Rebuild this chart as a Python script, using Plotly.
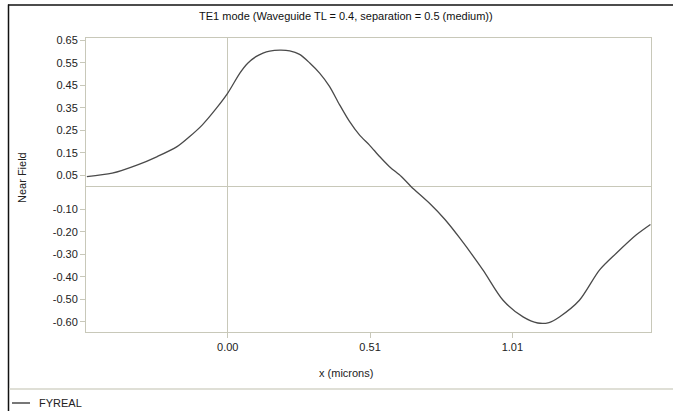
import plotly.graph_objects as go

# ---- data ----
x_microns = [-0.50, -0.41, -0.32, -0.25, -0.18, -0.135, -0.09, -0.04, 0.00, 0.043,
             0.07, 0.10, 0.125, 0.149, 0.185, 0.220, 0.255, 0.291, 0.326, 0.361,
             0.397, 0.432, 0.468, 0.503, 0.539, 0.574, 0.616, 0.651, 0.716, 0.77,
             0.823, 0.906, 0.977, 1.048, 1.10, 1.14, 1.177, 1.248, 1.319, 1.378,
             1.449, 1.50]
fyreal = [0.045, 0.060, 0.097, 0.134, 0.178, 0.223, 0.275, 0.349, 0.416, 0.505,
          0.548, 0.578, 0.594, 0.603, 0.607, 0.604, 0.588, 0.550, 0.505, 0.446,
          0.364, 0.290, 0.229, 0.185, 0.134, 0.089, 0.045, 0.000, -0.074, -0.145,
          -0.228, -0.371, -0.505, -0.579, -0.606, -0.604, -0.579, -0.505, -0.371, -0.297,
          -0.215, -0.168]

y_tickvals = [0.65, 0.55, 0.45, 0.35, 0.25, 0.15, 0.05, -0.10, -0.20, -0.30, -0.40, -0.50, -0.60]
y_ticktext = ["0.65", "0.55", "0.45", "0.35", "0.25", "0.15", "0.05",
              "-0.10", "-0.20", "-0.30", "-0.40", "-0.50", "-0.60"]
x_tickvals = [0.0, 0.505, 1.01]
x_ticktext = ["0.00", "0.51", "1.01"]

title_text = "TE1 mode (Waveguide TL = 0.4, separation = 0.5 (medium))"
x_title = "x (microns)"
y_title = "Near Field"
series_name = "FYREAL"

# ---- layout geometry (pixels) ----
W, H = 673, 411
L, R, T, B = 86, 22, 38, 79
PW, PH = W - L - R, H - T - B


def px(xp):
    return (xp - L) / PW


def py(yp):
    return (H - B - yp) / PH


FONT = "Liberation Sans, Arial, sans-serif"
AXC = "#c8c8b9"
LINEC = "#4a4a4a"

fig = go.Figure()
fig.add_trace(go.Scatter(
    x=x_microns, y=fyreal, mode="lines", name=series_name,
    line=dict(color=LINEC, width=1.3, shape="spline", smoothing=0.8),
    showlegend=False,
))

fig.update_layout(
    width=W, height=H,
    margin=dict(l=L, r=R, t=T, b=B, pad=0, autoexpand=False),
    paper_bgcolor="white", plot_bgcolor="white",
    font=dict(family=FONT, size=11, color="#222222"),
    showlegend=False,
    xaxis=dict(range=[-0.503, 1.502], tickvals=x_tickvals, ticktext=x_ticktext,
               showgrid=False, zeroline=True, zerolinecolor=AXC, zerolinewidth=1,
               showline=True, linecolor=AXC, linewidth=1, mirror=True,
               ticks="outside", ticklen=5, tickcolor=AXC, tickwidth=1,
               tickfont=dict(size=11, color="#222222")),
    yaxis=dict(range=[-0.646, 0.661], tickvals=y_tickvals, ticktext=y_ticktext,
               showgrid=False, zeroline=True, zerolinecolor=AXC, zerolinewidth=1,
               showline=True, linecolor=AXC, linewidth=1, mirror=True,
               ticks="outside", ticklen=5, tickcolor=AXC, tickwidth=1,
               tickfont=dict(size=11, color="#222222")),
    annotations=[
        dict(text=title_text, x=px(346), y=py(16), xref="paper", yref="paper",
             showarrow=False, xanchor="center", yanchor="middle",
             font=dict(family=FONT, size=11, color="#111111")),
        dict(text=x_title, x=px(346), y=py(373), xref="paper", yref="paper",
             showarrow=False, xanchor="center", yanchor="middle",
             font=dict(family=FONT, size=11, color="#222222")),
        dict(text=y_title, x=px(22), y=py(178), xref="paper", yref="paper",
             showarrow=False, xanchor="center", yanchor="middle", textangle=-90,
             font=dict(family=FONT, size=11, color="#222222")),
        # legend label
        dict(text=series_name, x=px(37), y=py(403), xref="paper", yref="paper",
             showarrow=False, xanchor="left", yanchor="middle",
             font=dict(family=FONT, size=11, color="#222222")),
    ],
    shapes=[
        dict(type="line", xref="paper", yref="paper", x0=px(8), x1=px(673),
             y0=py(5), y1=py(5), line=dict(color="#111111", width=1.5)),
        dict(type="line", xref="paper", yref="paper", x0=px(8.5), x1=px(8.5),
             y0=py(4.5), y1=py(411), line=dict(color="#111111", width=1.5)),
        dict(type="line", xref="paper", yref="paper", x0=px(9), x1=px(673),
             y0=py(389), y1=py(389), line=dict(color="#d4d4c8", width=1.5)),
        # legend swatch
        dict(type="line", xref="paper", yref="paper", x0=px(12), x1=px(30),
             y0=py(403), y1=py(403), line=dict(color=LINEC, width=1.5)),
    ],
)

fig.write_html("out.html")
